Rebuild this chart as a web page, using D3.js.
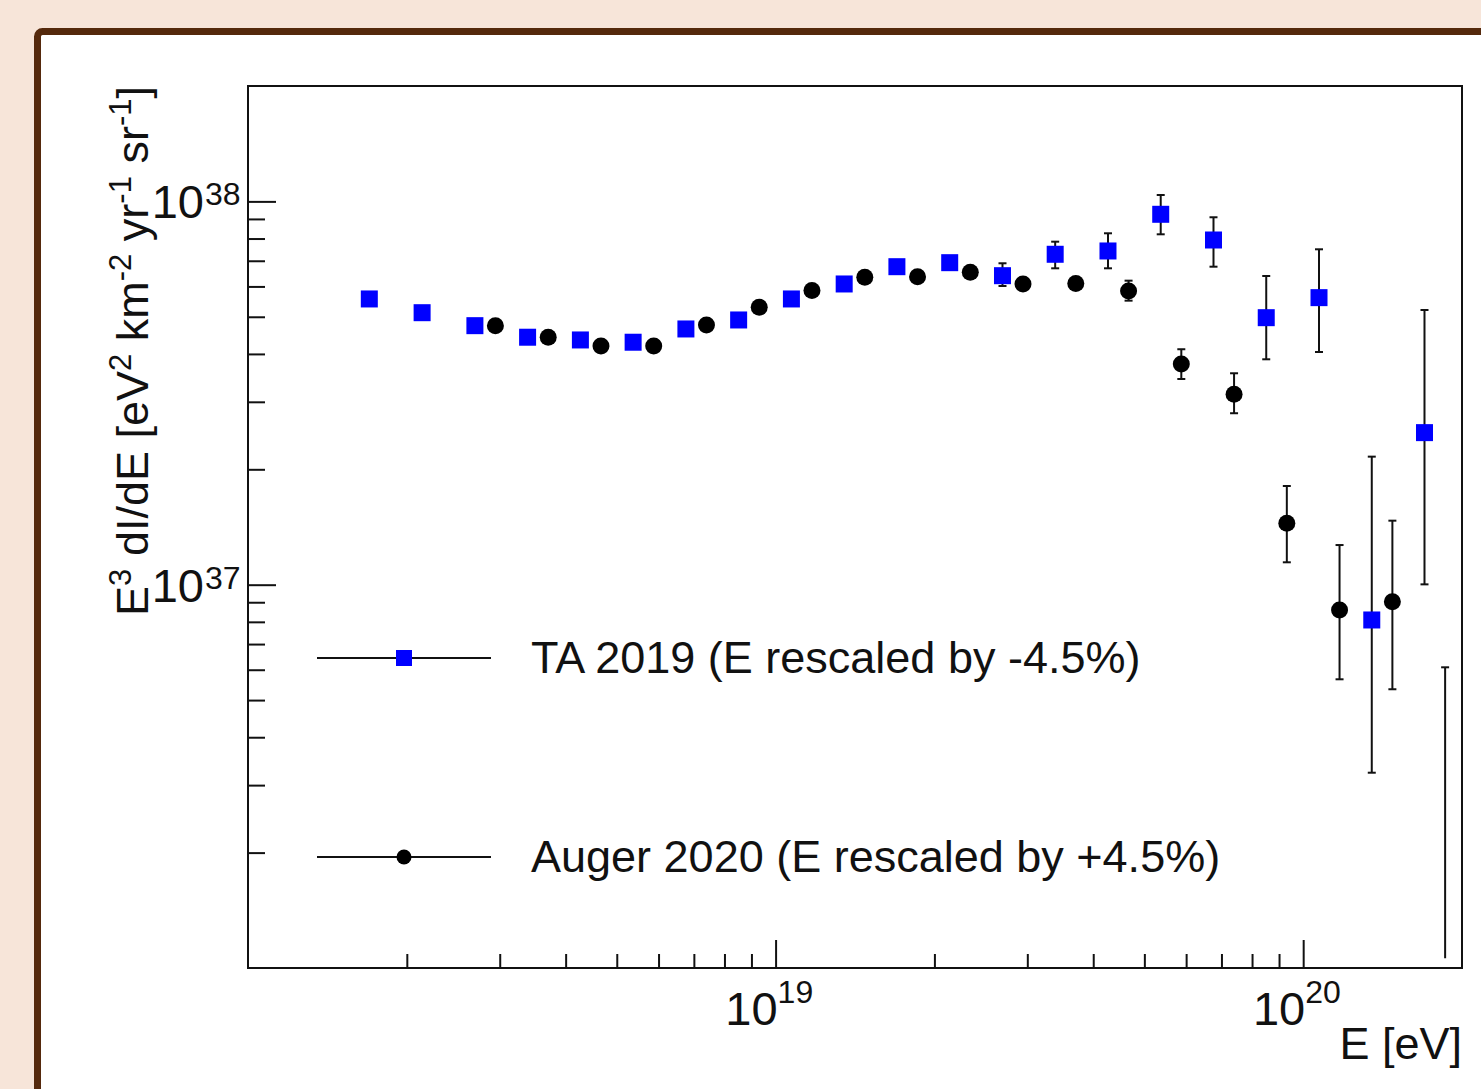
<!DOCTYPE html>
<html><head><meta charset="utf-8">
<script src="https://cdn.jsdelivr.net/npm/d3@7"></script>
<style>
html,body{margin:0;padding:0;background:#f7e5d9;overflow:hidden;}
svg{display:block;font-family:"Liberation Sans",Arial,Helvetica,sans-serif;}
</style></head><body>
<svg id="c" width="1481" height="1089"></svg>
<script>
// ---- data (E in eV, flux E^3 dI/dE in eV^2 km^-2 yr^-1 sr^-1) ----
const taEnergy = [1.698e18, 2.138e18, 2.692e18, 3.388e18, 4.266e18, 5.370e18, 6.761e18, 8.511e18,
  1.0715e19, 1.349e19, 1.698e19, 2.138e19, 2.692e19, 3.388e19, 4.266e19, 5.370e19, 6.761e19, 8.511e19,
  1.0715e20, 1.349e20, 1.698e20];
const taFlux = [5.565e37, 5.124e37, 4.740e37, 4.422e37, 4.350e37, 4.291e37, 4.647e37, 4.905e37,
  5.565e37, 6.089e37, 6.755e37, 6.920e37, 6.400e37, 7.278e37, 7.424e37, 9.254e37, 7.930e37, 4.973e37,
  5.609e37, 8.090e36, 2.493e37];
const taErrHi = [null, null, null, null, null, null, null, null,
  null, null, null, null, 6.895e37, 7.850e37, 8.256e37, 1.039e38, 9.090e37, 6.388e37,
  7.499e37, 2.158e37, 5.208e37];
const taErrLo = [null, null, null, null, null, null, null, null,
  null, null, null, null, 6.016e37, 6.690e37, 6.690e37, 8.206e37, 6.755e37, 3.873e37,
  4.046e37, 3.232e36, 1.002e37];

const augerEnergy = [2.944e18, 3.707e18, 4.667e18, 5.875e18, 7.396e18, 9.311e18,
  1.172e19, 1.476e19, 1.858e19, 2.339e19, 2.944e19, 3.707e19, 4.667e19, 5.875e19, 7.396e19, 9.311e19,
  1.172e20, 1.476e20, 1.858e20];
const augerFlux = [4.740e37, 4.422e37, 4.197e37, 4.197e37, 4.760e37, 5.293e37,
  5.856e37, 6.339e37, 6.362e37, 6.531e37, 6.089e37, 6.107e37, 5.838e37, 3.765e37, 3.139e37, 1.446e37,
  8.590e36, 9.030e36, null];
const augerErrHi = [null, null, null, null, null, null,
  null, null, null, null, null, null, 6.211e37, 4.114e37, 3.561e37, 1.809e37,
  1.269e37, 1.469e37, 6.088e36];
const augerErrLo = [null, null, null, null, null, null,
  null, null, null, null, null, null, 5.508e37, 3.441e37, 2.801e37, 1.144e37,
  5.665e36, 5.336e36, 1.06e36];

const xDomain = [1e18, 2e20];
const yDomain = [1e36, 2e38];
const xMajor = [1e19, 1e20];
const xMajorExp = ["19", "20"];
const yMajor = [1e37, 1e38];
const yMajorExp = ["37", "38"];
const legendLabels = ["TA 2019 (E rescaled by -4.5%)", "Auger 2020 (E rescaled by +4.5%)"];
const xTitle = "E [eV]";

// ---- layout ----
const W = 1481, H = 1089;
const P = {left: 248, right: 1462, top: 86, bottom: 968};
const FONT = 45, TFONT = 47, SUP = 32;
const svg = d3.select("#c");

// outer brown frame
svg.append("rect").attr("x", 37.5).attr("y", 31.5).attr("width", W + 40).attr("height", H + 40)
  .attr("rx", 5).attr("fill", "#ffffff").attr("stroke", "#55290c").attr("stroke-width", 7);

const x = d3.scaleLog().domain(xDomain).range([P.left, P.right]);
const y = d3.scaleLog().domain(yDomain).range([P.bottom, P.top]);

const isMajor = v => Math.abs(Math.log10(v) - Math.round(Math.log10(v))) < 1e-9;
const xMinor = x.ticks().filter(v => !isMajor(v) && v > xDomain[0] && v < xDomain[1]);
const yMinor = y.ticks().filter(v => !isMajor(v) && v > yDomain[0] && v < yDomain[1]);

// axes ticks (inward)
const gx = svg.append("g").attr("transform", `translate(0,${P.bottom})`);
gx.append("g").call(d3.axisTop(x).tickValues(xMinor).tickSize(14).tickFormat(""));
gx.append("g").call(d3.axisTop(x).tickValues(xMajor).tickSize(28).tickFormat(""));
const gy = svg.append("g").attr("transform", `translate(${P.left},0)`);
gy.append("g").call(d3.axisRight(y).tickValues(yMinor).tickSize(17).tickFormat(""));
gy.append("g").call(d3.axisRight(y).tickValues(yMajor).tickSize(28).tickFormat(""));
svg.selectAll(".domain").remove();
svg.selectAll(".tick line").attr("stroke", "#111").attr("stroke-width", 2);

// plot frame
svg.append("rect").attr("x", P.left).attr("y", P.top).attr("width", P.right - P.left)
  .attr("height", P.bottom - P.top).attr("fill", "none").attr("stroke", "#111").attr("stroke-width", 2);

// x tick labels 10^n
xMajor.forEach((v, i) => {
  svg.append("text").attr("font-size", TFONT).attr("fill", "#111").attr("text-anchor", "end")
    .attr("x", x(v) + 2).attr("y", P.bottom + 57).text("10");
  svg.append("text").attr("font-size", SUP).attr("fill", "#111")
    .attr("x", x(v) + 2).attr("y", P.bottom + 35).text(xMajorExp[i]);
});
// y tick labels 10^n
yMajor.forEach((v, i) => {
  svg.append("text").attr("font-size", TFONT).attr("fill", "#111").attr("text-anchor", "end")
    .attr("x", 204).attr("y", y(v) + 17).text("10");
  svg.append("text").attr("font-size", SUP).attr("fill", "#111")
    .attr("x", 205).attr("y", y(v) + 4).text(yMajorExp[i]);
});

// axis titles
svg.append("text").attr("font-size", FONT).attr("fill", "#111").attr("text-anchor", "end")
  .attr("x", P.right).attr("y", P.bottom + 91).text(xTitle);

const yt = svg.append("text").attr("font-size", FONT).attr("fill", "#111").attr("text-anchor", "end")
  .attr("transform", `translate(148,${P.top}) rotate(-90)`);
const ytParts = [["E", 0], ["3", 1], [" dI/dE [eV", 0], ["2", 1], [" km", 0], ["-2", 1], [" yr", 0], ["-1", 1], [" sr", 0], ["-1", 1], ["]", 0]];
let prevSup = 0;
ytParts.forEach(([s, sup]) => {
  const ts = yt.append("tspan").text(s);
  if (sup) ts.attr("font-size", SUP - 1).attr("dy", -17);
  else if (prevSup) ts.attr("dy", 17);
  prevSup = sup;
});

// error bars
function errBars(E, lo, hi) {
  const g = svg.append("g").attr("stroke", "#111").attr("stroke-width", 2);
  E.forEach((e, i) => {
    if (hi[i] == null) return;
    const xx = x(e), y1 = y(lo[i]), y2 = y(hi[i]);
    g.append("line").attr("x1", xx).attr("x2", xx).attr("y1", y1).attr("y2", y2);
    g.append("line").attr("x1", xx - 4).attr("x2", xx + 4).attr("y1", y2).attr("y2", y2);
    if (lo[i] > yDomain[0] * 1.1) g.append("line").attr("x1", xx - 4).attr("x2", xx + 4).attr("y1", y1).attr("y2", y1);
  });
}
errBars(taEnergy, taErrLo, taErrHi);
errBars(augerEnergy, augerErrLo, augerErrHi);

const S = 17;
svg.append("g").selectAll("rect").data(taEnergy.map((e, i) => [e, taFlux[i]]).filter(d => d[1] != null))
  .join("rect").attr("x", d => x(d[0]) - S / 2).attr("y", d => y(d[1]) - S / 2)
  .attr("width", S).attr("height", S).attr("fill", "#0000ff");
svg.append("g").selectAll("circle").data(augerEnergy.map((e, i) => [e, augerFlux[i]]).filter(d => d[1] != null))
  .join("circle").attr("cx", d => x(d[0])).attr("cy", d => y(d[1])).attr("r", 8.5).attr("fill", "#000");

// legend
const legY = [658, 857];
legendLabels.forEach((lab, i) => {
  const g = svg.append("g");
  g.append("line").attr("x1", 317).attr("x2", 491).attr("y1", legY[i]).attr("y2", legY[i])
    .attr("stroke", "#111").attr("stroke-width", 2);
  if (i === 0) g.append("rect").attr("x", 404 - 8).attr("y", legY[i] - 8).attr("width", 16).attr("height", 16).attr("fill", "#0000ff");
  else g.append("circle").attr("cx", 404).attr("cy", legY[i]).attr("r", 7.5).attr("fill", "#000");
  g.append("text").attr("x", 531).attr("y", legY[i] + 15).attr("font-size", FONT).attr("fill", "#111").text(lab);
});
</script>
</body></html>
